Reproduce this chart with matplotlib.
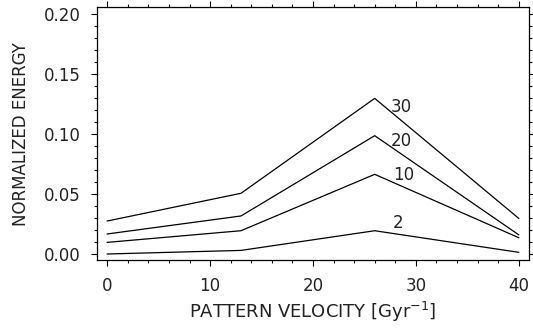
import matplotlib
matplotlib.use("Agg")
import matplotlib.pyplot as plt
from matplotlib.ticker import MultipleLocator

velocity = [0, 13, 26, 40]
series_labels = ["30", "20", "10", "2"]
energy_30 = [0.0275, 0.0506, 0.1297, 0.0297]
energy_20 = [0.0167, 0.0317, 0.0986, 0.0160]
energy_10 = [0.0097, 0.0194, 0.0664, 0.0136]
energy_2 = [0.0000, 0.0030, 0.0194, 0.0014]
series = [energy_30, energy_20, energy_10, energy_2]
label_pos = [(27.6, 0.1228), (27.6, 0.0944), (27.8, 0.0658), (27.8, 0.0256)]

plt.rcParams['font.family'] = ['DejaVu Sans']
plt.rcParams['mathtext.fontset'] = 'dejavusans'
fig = plt.figure(figsize=(5.33, 3.28), dpi=100)
ax = fig.add_axes([97/533, 1-260/328, (529-97)/533, (260-7.3)/328])

for ys in series:
    ax.plot(velocity, ys, color='black', lw=0.9)
for lab, (lx, ly) in zip(series_labels, label_pos):
    ax.text(lx, ly, lab, fontsize=12, ha='left', va='center', color='#222222')

ax.set_xlim(-1, 41)
ax.set_ylim(-0.005, 0.2056)
ax.xaxis.set_major_locator(MultipleLocator(10))
ax.xaxis.set_minor_locator(MultipleLocator(2))
ax.yaxis.set_major_locator(MultipleLocator(0.05))
ax.yaxis.set_minor_locator(MultipleLocator(0.01))
ax.tick_params(which='both', direction='out', top=True, right=True, labelsize=12,
               width=0.8, labelcolor='#222222')
ax.tick_params(which='major', length=4, pad=8)
ax.tick_params(which='minor', length=2)
ax.set_xticks([0, 10, 20, 30, 40])
ax.set_xticklabels(["0", "10", "20", "30", "40"])
ax.set_yticks([0.0, 0.05, 0.10, 0.15, 0.20])
ax.set_yticklabels(["0.00", "0.05", "0.10", "0.15", "0.20"])
for s in ax.spines.values():
    s.set_linewidth(0.9)
ax.set_xlabel("PATTERN VELOCITY [Gyr$^{-1}$]", fontsize=13, labelpad=4, color='#222222')
ax.set_ylabel("NORMALIZED ENERGY", fontsize=12, labelpad=10, color='#222222')

fig.savefig("out.png", dpi=100)
